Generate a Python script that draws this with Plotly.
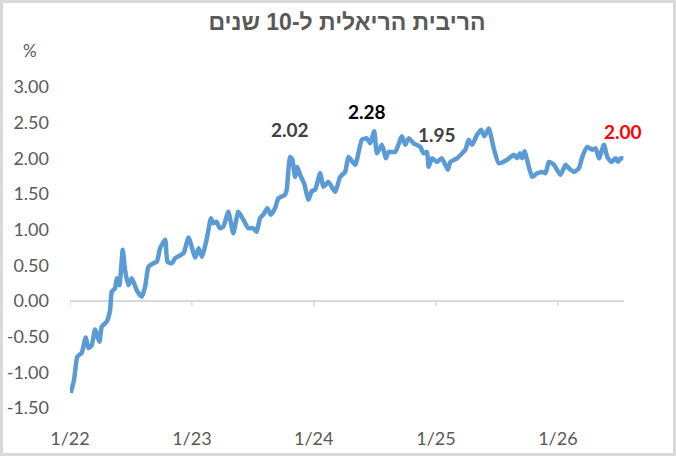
import plotly.graph_objects as go

dates = [
    '2022-01-03', '2022-01-13', '2022-01-23', '2022-02-05', '2022-02-17', '2022-02-25',
    '2022-03-07', '2022-03-17', '2022-03-30', '2022-04-06', '2022-04-21', '2022-05-01',
    '2022-05-06', '2022-05-16', '2022-05-21', '2022-05-29', '2022-06-08', '2022-06-15',
    '2022-06-25', '2022-07-05', '2022-07-20', '2022-08-04', '2022-08-14', '2022-08-24',
    '2022-09-08', '2022-09-18', '2022-09-28', '2022-10-13', '2022-10-20', '2022-11-02',
    '2022-11-12', '2022-12-07', '2022-12-22', '2023-01-11', '2023-01-21', '2023-01-31',
    '2023-02-15', '2023-02-27', '2023-03-06', '2023-03-16', '2023-03-26', '2023-04-05',
    '2023-04-20', '2023-05-05', '2023-05-20', '2023-06-04', '2023-06-19', '2023-07-04',
    '2023-07-14', '2023-07-24', '2023-08-03', '2023-08-15', '2023-08-25', '2023-09-07',
    '2023-09-17', '2023-10-07', '2023-10-12', '2023-10-22', '2023-10-29', '2023-11-06',
    '2023-11-13', '2023-11-21', '2023-12-03', '2023-12-16', '2023-12-26', '2024-01-05',
    '2024-01-20', '2024-01-30', '2024-02-14', '2024-03-05', '2024-03-20', '2024-04-04',
    '2024-04-14', '2024-05-04', '2024-05-24', '2024-06-08', '2024-06-18', '2024-06-30',
    '2024-07-08', '2024-07-23', '2024-08-04', '2024-08-12', '2024-09-01', '2024-09-21',
    '2024-10-01', '2024-10-11', '2024-10-26', '2024-11-15', '2024-11-25', '2024-12-05',
    '2024-12-10', '2024-12-20', '2025-01-04', '2025-01-19', '2025-02-05', '2025-02-13',
    '2025-03-05', '2025-03-20', '2025-03-30', '2025-04-09', '2025-04-19', '2025-05-04',
    '2025-05-16', '2025-05-26', '2025-06-08', '2025-06-23', '2025-07-08', '2025-08-02',
    '2025-08-22', '2025-09-01', '2025-09-09', '2025-09-16', '2025-09-23', '2025-10-06',
    '2025-10-16', '2025-10-31', '2025-11-15', '2025-11-25', '2025-12-05', '2025-12-20',
    '2026-01-09', '2026-01-24', '2026-02-03', '2026-02-18', '2026-03-05', '2026-03-15',
    '2026-03-30', '2026-04-14', '2026-04-24', '2026-05-04', '2026-05-19', '2026-05-29',
    '2026-06-10', '2026-06-23', '2026-06-30', '2026-07-08', '2026-07-16',
]
rates = [
    -1.29, -1.11, -0.78, -0.73, -0.51, -0.66,
    -0.62, -0.40, -0.57, -0.36, -0.29, -0.13,
    0.13, 0.18, 0.32, 0.22, 0.72, 0.43,
    0.22, 0.32, 0.15, 0.06, 0.20, 0.48,
    0.53, 0.55, 0.74, 0.86, 0.55, 0.53,
    0.60, 0.67, 0.89, 0.61, 0.74, 0.62,
    0.88, 1.16, 1.09, 1.11, 1.02, 1.04,
    1.25, 0.95, 1.25, 1.14, 1.02, 1.02,
    0.97, 1.16, 1.21, 1.30, 1.21, 1.30,
    1.44, 1.49, 1.56, 2.02, 1.98, 1.74,
    1.88, 1.77, 1.65, 1.42, 1.54, 1.56,
    1.79, 1.60, 1.67, 1.53, 1.74, 1.81,
    2.02, 1.91, 2.26, 2.28, 2.21, 2.38,
    2.07, 2.19, 2.00, 2.09, 2.09, 2.31,
    2.19, 2.28, 2.21, 2.16, 2.07, 2.09,
    1.88, 2.00, 1.95, 2.00, 1.84, 1.95,
    2.00, 2.07, 2.12, 2.26, 2.19, 2.33,
    2.40, 2.31, 2.42, 2.14, 1.93, 1.98,
    2.05, 2.00, 2.07, 2.00, 2.10, 1.88,
    1.74, 1.79, 1.81, 1.79, 1.95, 1.91,
    1.77, 1.91, 1.86, 1.81, 1.86, 2.02,
    2.16, 2.12, 2.14, 2.00, 2.19, 2.02,
    1.95, 2.00, 1.95, 2.00, 2.00,
]

# highlighted values: (date, value, label colour)
callout_dates = ['2023-10-22', '2024-06-08', '2025-01-04', '2026-07-16']
callout_values = [2.02, 2.28, 1.95, 2.00]
callout_colors = ['#404040', '#000000', '#404040', '#ff0000']

x_tickvals = ['2022-01-01', '2023-01-01', '2024-01-01', '2025-01-01', '2026-01-01']
x_ticktext = ['1/22', '1/23', '1/24', '1/25', '1/26']
y_tickvals = [-1.5, -1.0, -0.5, 0.0, 0.5, 1.0, 1.5, 2.0, 2.5, 3.0]
y_ticktext = ['-1.50', '-1.00', '-0.50', '0.00', '0.50', '1.00', '1.50', '2.00', '2.50', '3.00']

title_text = 'הריבית הריאלית ל-10 שנים'

W, H = 676, 456
ML, MR, MT, MB = 70, 52, 87, 48
pw, ph = W - ML - MR, H - MT - MB
gray = '#595959'
axis_gray = '#d9d9d9'
font = 'Lato, "Open Sans", sans-serif'

fig = go.Figure()
fig.add_trace(go.Scatter(
    x=dates, y=rates, mode='lines',
    line=dict(color='#5b9bd5', width=4.5, shape='spline', smoothing=0.5),
    hoverinfo='x+y', showlegend=False))

# value callouts above the line
for d, v, c in zip(callout_dates, callout_values, callout_colors):
    fig.add_annotation(x=d, y=v, text='<b>%.2f</b>' % v, showarrow=False,
                       yshift=27, font=dict(family=font, size=19, color=c))

# small tick marks hanging off the zero line (excel style)
for t in x_tickvals:
    fig.add_shape(type='line', xref='x', yref='y', x0=t, x1=t, y0=0, y1=-0.075,
                  line=dict(color=axis_gray, width=1.5))

# '%' unit label above the y axis
fig.add_annotation(xref='paper', yref='paper', x=(30 - ML) / pw, y=(H - MB - 50) / ph,
                   xanchor='center', yanchor='middle',
                   text='%', showarrow=False, font=dict(family=font, size=17, color=gray))

# outer chart border
b = 1.5
fig.add_shape(type='rect', xref='paper', yref='paper', layer='below',
              x0=(b - ML) / pw, x1=(W - ML - b) / pw,
              y0=(b - MB) / ph, y1=(H - MB - b) / ph,
              line=dict(color=axis_gray, width=3))

fig.update_layout(
    width=W, height=H,
    margin=dict(l=ML, r=MR, t=MT, b=MB),
    paper_bgcolor='white', plot_bgcolor='white',
    title=dict(text='<b>' + title_text + '</b>', xref='paper', x=0.5, xanchor='center',
               yref='container', y=1 - 22 / H, yanchor='middle',
               font=dict(family='"Liberation Sans", Arial, sans-serif', size=23, color=gray)),
    xaxis=dict(range=['2022-01-01', '2026-07-18'], tickvals=x_tickvals, ticktext=x_ticktext,
               showgrid=False, zeroline=False, showline=False, ticks='', automargin=False,
               ticklabelstandoff=18, tickfont=dict(family=font, size=18, color=gray)),
    yaxis=dict(range=[-1.5, 3.0], tickvals=y_tickvals, ticktext=y_ticktext,
               showgrid=False, zeroline=True, zerolinecolor=axis_gray, zerolinewidth=1.5,
               showline=False, ticks='', ticklabelstandoff=20, automargin=False,
               tickfont=dict(family=font, size=18, color=gray)),
)

# drop the default page margin so the 676x456 figure sits flush in the window
fig.write_html('out.html', config={'displayModeBar': False},
               post_script="document.body.style.margin='0';")
